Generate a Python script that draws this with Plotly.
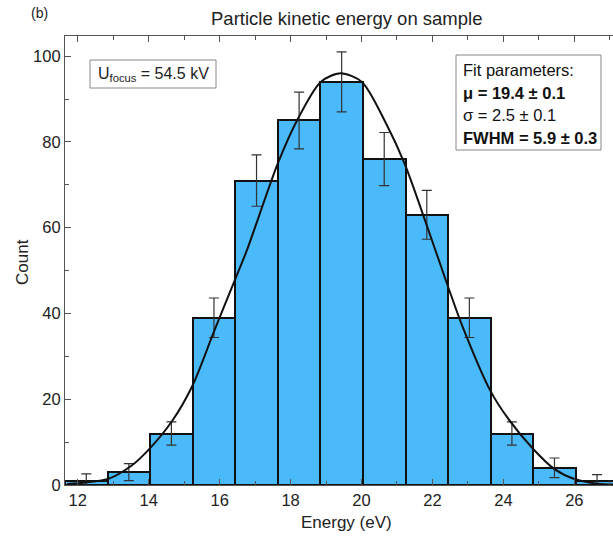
import plotly.graph_objects as go

# ---- data ----
bin_centers = [12.24, 13.44, 14.64, 15.84, 17.04, 18.24, 19.44, 20.64, 21.84, 23.04, 24.24, 25.44, 26.64]
counts = [1, 3, 12, 39, 71, 85, 94, 76, 63, 39, 12, 4, 1]
count_err = [1.6, 2.0, 2.7, 4.6, 6.0, 6.6, 7.0, 6.2, 5.7, 4.6, 2.7, 2.3, 1.4]
bin_width = 1.2

fit_x = [11.7, 12.23, 12.88, 13.53, 14.04, 14.65, 15.23, 15.85, 16.44, 16.78, 17.64, 18.20, 18.85, 19.41,
         20.01, 20.71, 21.22, 21.82, 22.45, 22.84, 23.63, 24.14, 24.84, 25.44, 26.00, 26.65, 27.1]
fit_y = [0.25, 0.6, 1.5, 4.6, 8.6, 14.8, 23.1, 36.0, 48.0, 55.0, 75.0, 85.3, 94.0, 96.0,
         94.0, 84.0, 74.8, 61.0, 46.0, 37.1, 22.0, 15.4, 8.4, 3.7, 1.4, 0.3, 0.1]

x_ticks = [12, 14, 16, 18, 20, 22, 24, 26]
y_ticks = [0, 20, 40, 60, 80, 100]

title_text = "Particle kinetic energy on sample"
panel_label = "(b)"
x_title = "Energy (eV)"
y_title = "Count"
focus_text = "U<sub>focus</sub> = 54.5 kV"
fit_lines = ["Fit parameters:", "<b>\u03bc = 19.4 \u00b1 0.1</b>", "\u03c3 = 2.5 \u00b1 0.1", "<b>FWHM = 5.9 \u00b1 0.3</b>"]

FONT = "Liberation Sans, Arial, sans-serif"
W, H = 613, 539
ML, MR, MT, MB = 65, 0, 36, 54
PW, PH = W - ML - MR, H - MT - MB


def px(xp):
    return (xp - ML) / PW


def py(yp):
    return (H - MB - yp) / PH


fig = go.Figure()
fig.add_trace(go.Bar(
    x=bin_centers, y=counts, width=bin_width,
    marker=dict(color="#4ABAFB", line=dict(color="#111111", width=2)),
    error_y=dict(type="data", array=count_err, visible=True, color="#333333", thickness=1.2, width=5),
    showlegend=False,
))
fig.add_trace(go.Scatter(
    x=fit_x, y=fit_y, mode="lines", line=dict(color="#111111", width=2, shape="spline", smoothing=0.8),
    showlegend=False, cliponaxis=True,
))

axis_common = dict(
    showgrid=False, zeroline=False, showline=True, linecolor="#555555", linewidth=1.2,
    ticks="inside", ticklen=6, tickwidth=1, tickcolor="#555555",
    tickfont=dict(family=FONT, size=16.5, color="#222222"),
)
fig.update_xaxes(
    range=[11.64, 27.09], tickvals=x_ticks, mirror="ticks",
    minor=dict(dtick=1, ticks="inside", ticklen=3.5, tickcolor="#555555", tick0=12),
    **axis_common,
)
fig.update_yaxes(
    range=[0, 104.7], tickvals=y_ticks, mirror=False,
    minor=dict(dtick=10, ticks="inside", ticklen=3.5, tickcolor="#555555", tick0=0),
    **axis_common,
)

ann = []
ann.append(dict(text=title_text, x=px(346), y=py(18), xref="paper", yref="paper", showarrow=False,
                font=dict(family=FONT, size=18.5, color="#222222"), xanchor="center", yanchor="middle"))
ann.append(dict(text=panel_label, x=px(39), y=py(13), xref="paper", yref="paper", showarrow=False,
                font=dict(family=FONT, size=14, color="#222222"), xanchor="center", yanchor="middle"))
ann.append(dict(text=x_title, x=px(346), y=py(522), xref="paper", yref="paper", showarrow=False,
                font=dict(family=FONT, size=17, color="#222222"), xanchor="center", yanchor="middle"))
ann.append(dict(text=y_title, x=px(22), y=py(262), xref="paper", yref="paper", showarrow=False, textangle=-90,
                font=dict(family=FONT, size=17, color="#222222"), xanchor="center", yanchor="middle"))
ann.append(dict(text=focus_text, x=px(153), y=py(74), xref="paper", yref="paper", showarrow=False,
                font=dict(family=FONT, size=16, color="#222222"), xanchor="center", yanchor="middle"))
line_y = [70, 93, 115, 138]
for t, yy in zip(fit_lines, line_y):
    ann.append(dict(text=t, x=px(461), y=py(yy), xref="paper", yref="paper", showarrow=False,
                    font=dict(family=FONT, size=16.5, color="#111111"), xanchor="left", yanchor="middle"))

shapes = [
    dict(type="rect", xref="paper", yref="paper", x0=px(90), x1=px(216), y0=py(88), y1=py(60),
         line=dict(color="#888888", width=1), fillcolor="white", layer="below"),
    dict(type="rect", xref="paper", yref="paper", x0=px(456), x1=px(601), y0=py(150), y1=py(55),
         line=dict(color="#888888", width=1), fillcolor="rgba(0,0,0,0)"),
]

fig.update_layout(
    width=W, height=H, margin=dict(l=ML, r=MR, t=MT, b=MB),
    paper_bgcolor="white", plot_bgcolor="white",
    annotations=ann, shapes=shapes, bargap=0,
    font=dict(family=FONT),
)
fig.write_html("out.html", config={"displayModeBar": False},
               post_script="document.body.style.margin='0';document.body.style.overflow='hidden';")
